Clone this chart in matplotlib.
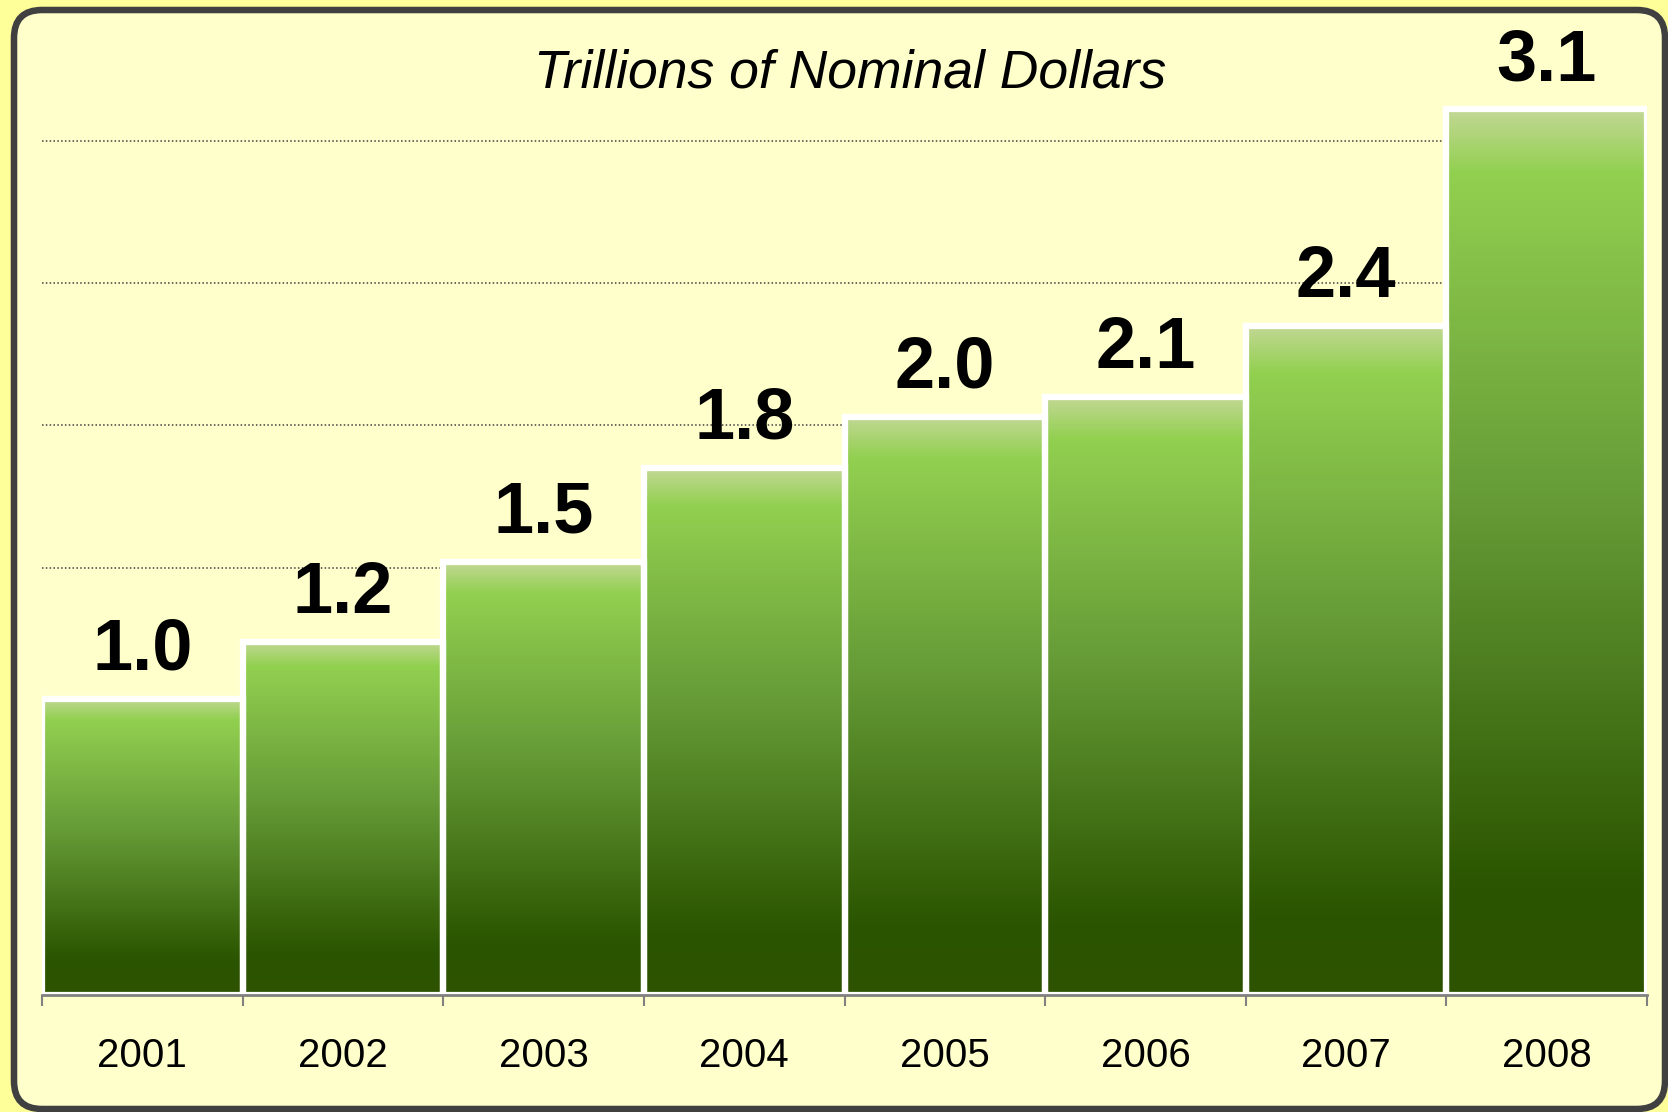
import numpy as np
import matplotlib
matplotlib.use('Agg')
import matplotlib.pyplot as plt
from matplotlib.colors import LinearSegmentedColormap
from matplotlib.patches import FancyBboxPatch

# data
years = ['2001', '2002', '2003', '2004', '2005', '2006', '2007', '2008']
values = [1.04, 1.24, 1.52, 1.85, 2.03, 2.10, 2.35, 3.11]
value_labels = ['1.0', '1.2', '1.5', '1.8', '2.0', '2.1', '2.4', '3.1']
grid_levels = [0.5, 1.0, 1.5, 2.0, 2.5, 3.0]

plt.rcParams['font.family'] = ['Liberation Sans', 'DejaVu Sans']

fig = plt.figure(figsize=(16.68, 11.12), dpi=100)
fig.patch.set_facecolor('#FFFF99')

# rounded panel behind the chart
panel = FancyBboxPatch((0.14, 0.03), 16.51, 10.99,
                       boxstyle='round,pad=0,rounding_size=0.28',
                       transform=fig.dpi_scale_trans,
                       facecolor='#FFFFCC', edgecolor='#404040',
                       linewidth=4.7, zorder=-1)
fig.patches.append(panel)

ax = fig.add_axes([0.0252, 0.1052, 0.9622, 0.8964])
ax.set_facecolor('none')

# green gradient, light at the top of each bar, dark at the bottom
cmap = LinearSegmentedColormap.from_list('bar', [
    (0.0, '#C2D894'),
    (0.07, '#92D050'),
    (0.45, '#659A36'),
    (0.88, '#2B5500'),
    (1.0, '#2E5200'),
])
grad = np.linspace(0, 1, 256).reshape(-1, 1)

x = np.arange(len(years))
bars = ax.bar(x, values, width=1.0, color='none', edgecolor='white',
              linewidth=4.5, zorder=3)
for b in bars:
    x0, y0 = b.get_x(), b.get_y()
    im = ax.imshow(grad, cmap=cmap, aspect='auto', origin='upper',
                   extent=(x0, x0 + b.get_width(), y0, y0 + b.get_height()),
                   zorder=2.5)
    im.set_clip_path(b)

for xi, v, lab in zip(x, values, value_labels):
    ax.annotate(lab, (xi, v), xytext=(0, 21), textcoords='offset points',
                ha='center', va='baseline', fontsize=52, fontweight='bold')

ax.set_xlim(-0.5, len(years) - 0.5)
ax.set_ylim(0, 3.5)

# dotted gridlines
ax.set_yticks(grid_levels)
ax.yaxis.grid(True, color='#404040', linestyle=(0, (1, 1.5)), linewidth=1.1)
ax.set_axisbelow(True)
ax.tick_params(axis='y', left=False, labelleft=False)

# ticks between bars, year labels centered
ax.set_xticks(np.arange(len(years) + 1) - 0.5)
ax.set_xticklabels([])
ax.set_xticks(x, minor=True)
ax.set_xticklabels(years, minor=True, fontsize=29)
ax.tick_params(axis='x', which='major', direction='out', length=8,
               width=1.5, color='#808080')
ax.tick_params(axis='x', which='minor', length=0, pad=30)

for s in ['left', 'right', 'top']:
    ax.spines[s].set_visible(False)
ax.spines['bottom'].set_color('#808080')
ax.spines['bottom'].set_linewidth(2)
ax.spines['bottom'].set_zorder(4)

fig.text(850 / 1668, 1 - 88 / 1112, 'Trillions of Nominal Dollars',
         ha='center', va='baseline', fontsize=38.5, style='italic')

fig.savefig('out.png', dpi=100, facecolor=fig.get_facecolor())
